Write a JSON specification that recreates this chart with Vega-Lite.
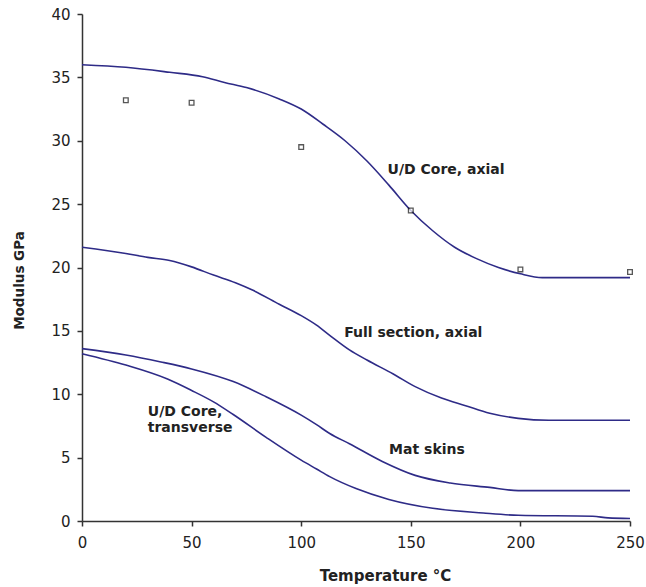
{
  "$schema": "https://vega.github.io/schema/vega-lite/v6.json",
  "width": 548,
  "height": 507,
  "autosize": {"type": "none"},
  "padding": {"left": 82, "top": 14, "right": 16, "bottom": 66},
  "background": "white",
  "config": {
    "view": {"stroke": null},
    "font": "DejaVu Sans",
    "axis": {
      "grid": false,
      "labelFlush": false,
      "labelOverlap": false,
      "domainColor": "#333333",
      "domainWidth": 1.5,
      "tickColor": "#333333",
      "tickWidth": 1.5,
      "tickSize": 5,
      "labelFont": "DejaVu Sans",
      "labelFontSize": 15,
      "labelColor": "#222222",
      "titleFont": "DejaVu Sans",
      "titleFontSize": 13.5,
      "titleFontWeight": "bold",
      "titleColor": "#222222"
    }
  },
  "datasets": {
    "curves": [
      {"series": "U/D Core, axial", "t": 0, "E": 36.0},
      {"series": "U/D Core, axial", "t": 20, "E": 35.8},
      {"series": "U/D Core, axial", "t": 40, "E": 35.4},
      {"series": "U/D Core, axial", "t": 55, "E": 35.05},
      {"series": "U/D Core, axial", "t": 65, "E": 34.6},
      {"series": "U/D Core, axial", "t": 75, "E": 34.2},
      {"series": "U/D Core, axial", "t": 90, "E": 33.3},
      {"series": "U/D Core, axial", "t": 100, "E": 32.5},
      {"series": "U/D Core, axial", "t": 110, "E": 31.3},
      {"series": "U/D Core, axial", "t": 120, "E": 30.0},
      {"series": "U/D Core, axial", "t": 130, "E": 28.4},
      {"series": "U/D Core, axial", "t": 140, "E": 26.5},
      {"series": "U/D Core, axial", "t": 150, "E": 24.5},
      {"series": "U/D Core, axial", "t": 160, "E": 22.9},
      {"series": "U/D Core, axial", "t": 170, "E": 21.6},
      {"series": "U/D Core, axial", "t": 180, "E": 20.7},
      {"series": "U/D Core, axial", "t": 190, "E": 20.0},
      {"series": "U/D Core, axial", "t": 200, "E": 19.5},
      {"series": "U/D Core, axial", "t": 210, "E": 19.2},
      {"series": "U/D Core, axial", "t": 230, "E": 19.2},
      {"series": "U/D Core, axial", "t": 250, "E": 19.2},
      {"series": "Full section, axial", "t": 0, "E": 21.6},
      {"series": "Full section, axial", "t": 20, "E": 21.1},
      {"series": "Full section, axial", "t": 30, "E": 20.8},
      {"series": "Full section, axial", "t": 40, "E": 20.55},
      {"series": "Full section, axial", "t": 50, "E": 20.05},
      {"series": "Full section, axial", "t": 60, "E": 19.4},
      {"series": "Full section, axial", "t": 70, "E": 18.8},
      {"series": "Full section, axial", "t": 78, "E": 18.2},
      {"series": "Full section, axial", "t": 90, "E": 17.1},
      {"series": "Full section, axial", "t": 100, "E": 16.2},
      {"series": "Full section, axial", "t": 107, "E": 15.45},
      {"series": "Full section, axial", "t": 113, "E": 14.65},
      {"series": "Full section, axial", "t": 122, "E": 13.5},
      {"series": "Full section, axial", "t": 130, "E": 12.7},
      {"series": "Full section, axial", "t": 142, "E": 11.6},
      {"series": "Full section, axial", "t": 152, "E": 10.6},
      {"series": "Full section, axial", "t": 164, "E": 9.7},
      {"series": "Full section, axial", "t": 175, "E": 9.1},
      {"series": "Full section, axial", "t": 186, "E": 8.5},
      {"series": "Full section, axial", "t": 199, "E": 8.1},
      {"series": "Full section, axial", "t": 213, "E": 7.95},
      {"series": "Full section, axial", "t": 250, "E": 7.95},
      {"series": "Mat skins", "t": 0, "E": 13.6},
      {"series": "Mat skins", "t": 20, "E": 13.1},
      {"series": "Mat skins", "t": 36, "E": 12.55},
      {"series": "Mat skins", "t": 50, "E": 12.0},
      {"series": "Mat skins", "t": 69, "E": 11.0},
      {"series": "Mat skins", "t": 84, "E": 9.8},
      {"series": "Mat skins", "t": 100, "E": 8.35},
      {"series": "Mat skins", "t": 107, "E": 7.6},
      {"series": "Mat skins", "t": 113, "E": 6.9},
      {"series": "Mat skins", "t": 122, "E": 6.1},
      {"series": "Mat skins", "t": 137, "E": 4.7},
      {"series": "Mat skins", "t": 152, "E": 3.6},
      {"series": "Mat skins", "t": 168, "E": 3.0},
      {"series": "Mat skins", "t": 186, "E": 2.65},
      {"series": "Mat skins", "t": 199, "E": 2.4},
      {"series": "Mat skins", "t": 250, "E": 2.4},
      {"series": "U/D Core, transverse", "t": 0, "E": 13.2},
      {"series": "U/D Core, transverse", "t": 20, "E": 12.3},
      {"series": "U/D Core, transverse", "t": 39, "E": 11.2},
      {"series": "U/D Core, transverse", "t": 50, "E": 10.3},
      {"series": "U/D Core, transverse", "t": 60, "E": 9.4},
      {"series": "U/D Core, transverse", "t": 69, "E": 8.4},
      {"series": "U/D Core, transverse", "t": 84, "E": 6.6},
      {"series": "U/D Core, transverse", "t": 100, "E": 4.8},
      {"series": "U/D Core, transverse", "t": 107, "E": 4.1},
      {"series": "U/D Core, transverse", "t": 113, "E": 3.5},
      {"series": "U/D Core, transverse", "t": 125, "E": 2.56},
      {"series": "U/D Core, transverse", "t": 140, "E": 1.7},
      {"series": "U/D Core, transverse", "t": 160, "E": 1.0},
      {"series": "U/D Core, transverse", "t": 183, "E": 0.63},
      {"series": "U/D Core, transverse", "t": 199, "E": 0.45},
      {"series": "U/D Core, transverse", "t": 233, "E": 0.37},
      {"series": "U/D Core, transverse", "t": 240, "E": 0.25},
      {"series": "U/D Core, transverse", "t": 250, "E": 0.2}
    ],
    "tests": [
      {"t": 20, "E": 33.2},
      {"t": 50, "E": 33.0},
      {"t": 100, "E": 29.5},
      {"t": 150, "E": 24.5},
      {"t": 200, "E": 19.85},
      {"t": 250, "E": 19.65}
    ],
    "labels": [
      {"t": 139.4, "E": 27.7, "text": "U/D Core, axial"},
      {"t": 119.6, "E": 14.8, "text": "Full section, axial"},
      {"t": 140.1, "E": 5.63, "text": "Mat skins"},
      {"t": 30, "E": 8.6, "text": "U/D Core,"},
      {"t": 30, "E": 7.34, "text": "transverse"}
    ]
  },
  "layer": [
    {
      "data": {"name": "curves"},
      "mark": {"type": "line", "interpolate": "monotone", "color": "#2e2b87", "strokeWidth": 1.6},
      "encoding": {
        "x": {
          "field": "t", "type": "quantitative",
          "scale": {"domain": [0, 250], "nice": false},
          "axis": {"values": [0, 50, 100, 150, 200, 250], "title": "Temperature °C", "titleFontSize": 15, "labelPadding": 9, "titleX": 303, "titleY": 54, "titleBaseline": "middle"}
        },
        "y": {
          "field": "E", "type": "quantitative",
          "scale": {"domain": [0, 40], "nice": false},
          "axis": {"values": [0, 5, 10, 15, 20, 25, 30, 35, 40], "title": "Modulus GPa", "labelPadding": 7, "titleX": -63, "titleY": 266, "titleBaseline": "middle"}
        },
        "detail": {"field": "series"}
      }
    },
    {
      "data": {"name": "tests"},
      "mark": {"type": "point", "shape": "square", "size": 22, "filled": false, "stroke": "#111111", "strokeWidth": 1.3, "fill": "white"},
      "encoding": {
        "x": {"field": "t", "type": "quantitative"},
        "y": {"field": "E", "type": "quantitative"}
      }
    },
    {
      "data": {"name": "labels"},
      "mark": {"type": "text", "align": "left", "baseline": "middle", "font": "DejaVu Sans", "fontSize": 14, "fontWeight": "bold", "color": "#222222"},
      "encoding": {
        "x": {"field": "t", "type": "quantitative"},
        "y": {"field": "E", "type": "quantitative"},
        "text": {"field": "text"}
      }
    }
  ]
}
